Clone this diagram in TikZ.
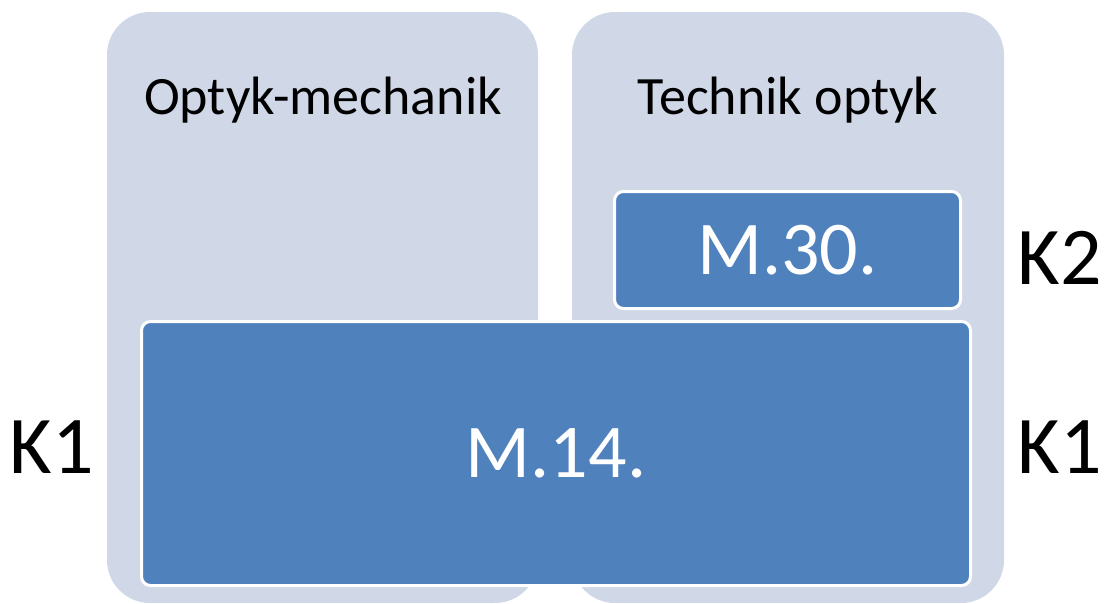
\documentclass[tikz,border=0pt]{standalone}
\usepackage{fontspec}
\setmainfont{Carlito}
\usepackage{tikz}
\definecolor{panelgray}{HTML}{D0D8E8}
\definecolor{modblue}{HTML}{4F81BD}

\begin{document}
\begin{tikzpicture}[
  % work in pixels of the original slide, top left is (0,0)
  x=1pt,
  y=-1pt,
  panel/.style={fill=panelgray, rounded corners=43pt},
  module/.style={rectangle, draw=white, line width=3pt, fill=modblue,
    rounded corners=9pt, text=white, font=\fontsize{76}{80}\selectfont},
  level/.style={font=\fontsize{82}{86}\selectfont}
]
\useasboundingbox (0,0) rectangle (1108,603);

% 1) The two profession panels (open at the bottom of the slide)
\fill[panel] (107,12) rectangle (538,603);
\fill[panel] (572,12) rectangle (1004,603);
\node[font=\fontsize{54}{58}\selectfont] (mech) at (323,100) {Optyk-mechanik};
\node[font=\fontsize{54}{58}\selectfont] (tech) at (788,100) {Technik optyk};

% 2) Qualifications
\node[module, minimum width=346pt, minimum height=117pt] (m30) at (787.5,250) {M.30.};
\node[module, minimum width=829pt, minimum height=264pt] (m14) at (556,453.5) {M.14.};

% 3) Levels at the sides
\node[level] (k2) at (1060,258) {K2};
\node[level] (k1l) at (52,447) {K1};
\node[level] (k1r) at (1060,447) {K1};

\end{tikzpicture}
\end{document}
